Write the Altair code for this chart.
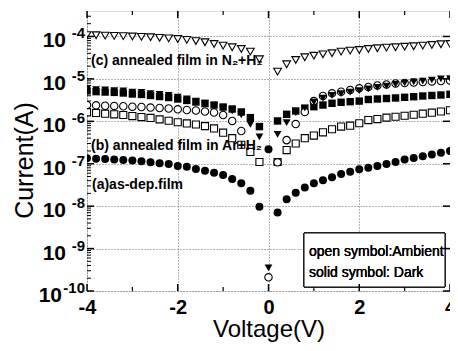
import altair as alt
import pandas as pd

# ---------------- data ----------------
voltage = [-4.0, -3.8, -3.6, -3.4, -3.2, -3.0, -2.8, -2.6, -2.4, -2.2, -2.0,
           -1.8, -1.6, -1.4, -1.2, -1.0, -0.8, -0.6, -0.4, -0.2, 0.0,
           0.2, 0.4, 0.6, 0.8, 1.0, 1.2, 1.4, 1.6, 1.8, 2.0,
           2.2, 2.4, 2.6, 2.8, 3.0, 3.2, 3.4, 3.6, 3.8, 4.0]

# (c) annealed in N2+H2, ambient (open down-triangles)
n2h2_ambient = [1.08e-4, 1.07e-4, 1.05e-4, 1.03e-4, 1.02e-4, 1.00e-4, 9.8e-5, 9.6e-5, 9.3e-5, 9.0e-5, 8.7e-5,
                8.3e-5, 7.8e-5, 7.3e-5, 6.65e-5, 6.07e-5, 5.56e-5, 5.07e-5, 4.38e-5, 2.9e-5, None,
                1.48e-5, 2.21e-5, 2.79e-5, 3.23e-5, 3.52e-5, 3.8e-5, 4.02e-5, 4.38e-5, 4.63e-5, 4.81e-5,
                5.07e-5, 5.27e-5, 5.45e-5, 5.56e-5, 5.74e-5, 5.87e-5, 6.07e-5, 6.31e-5, 6.55e-5, 6.65e-5]
# (c) dark (filled down-triangles)
n2h2_dark = [5.8e-6, 5.6e-6, 5.5e-6, 5.3e-6, 5.2e-6, 4.9e-6, 4.8e-6, 4.5e-6, 4.3e-6, 4.1e-6, 3.7e-6,
             3.4e-6, 3.0e-6, 2.7e-6, 2.36e-6, 2.06e-6, 1.75e-6, 1.41e-6, 8.5e-7, 4.3e-7, 3.5e-10,
             4.9e-7, 9.3e-7, 1.6e-6, 2.06e-6, 2.85e-6, 3.5e-6, 4.1e-6, 4.5e-6, 4.9e-6, 5.3e-6,
             5.8e-6, 6.3e-6, 6.8e-6, 7.4e-6, 8.0e-6, 8.5e-6, 8.9e-6, 9.4e-6, 9.95e-6, 1.02e-5]
# (b) annealed in Ar+H2, ambient (open squares)
arh2_ambient = [1.63e-6, 1.57e-6, 1.51e-6, 1.46e-6, 1.41e-6, 1.33e-6, 1.26e-6, 1.2e-6, 1.11e-6, 1.03e-6, 9.5e-7,
                8.9e-7, 8.4e-7, 7.7e-7, 6.8e-7, 5.4e-7, 4.0e-7, 2.8e-7, 1.9e-7, 1.1e-7, None,
                1.1e-7, 2.1e-7, 3.0e-7, 4.0e-7, 4.6e-7, 5.5e-7, 6.5e-7, 7.5e-7, 7.9e-7, 9.0e-7,
                1.07e-6, 1.13e-6, 1.22e-6, 1.28e-6, 1.35e-6, 1.43e-6, 1.51e-6, 1.6e-6, 1.7e-6, 1.82e-6]
# (b) dark (filled squares)
arh2_dark = [5.2e-6, 5.0e-6, 4.9e-6, 4.8e-6, 4.65e-6, 4.4e-6, 4.3e-6, 4.06e-6, 3.84e-6, 3.64e-6, 3.36e-6,
             3.1e-6, 2.85e-6, 2.63e-6, 2.42e-6, 2.17e-6, 1.95e-6, 1.66e-6, 1.22e-6, 7.5e-7, None,
             1.02e-6, 1.46e-6, 1.75e-6, 2.03e-6, 2.21e-6, 2.42e-6, 2.66e-6, 2.81e-6, 2.9e-6, 3.0e-6,
             3.27e-6, 3.36e-6, 3.45e-6, 3.55e-6, 3.68e-6, 3.8e-6, 3.95e-6, 4.06e-6, 4.17e-6, 4.33e-6]
# (a) as-deposited, ambient (open circles)
asdep_ambient = [2.42e-6, 2.38e-6, 2.33e-6, 2.3e-6, 2.26e-6, 2.21e-6, 2.17e-6, 2.11e-6, 2.06e-6, 2.0e-6, 1.92e-6,
                 1.85e-6, 1.8e-6, 1.7e-6, 1.61e-6, 1.41e-6, 1.02e-6, 5.9e-7, None, None, 2.1e-10,
                 1.08e-7, 3.6e-7, 8.6e-7, 1.66e-6, 3.0e-6, 3.95e-6, 4.57e-6, 4.99e-6, 5.47e-6, 6.0e-6,
                 6.44e-6, 6.98e-6, 7.38e-6, 7.79e-6, 8.0e-6, 8.2e-6, 8.45e-6, 8.69e-6, 8.9e-6, 9.2e-6]
# (a) dark (filled circles)
asdep_dark = [1.34e-7, 1.31e-7, 1.29e-7, 1.26e-7, 1.22e-7, 1.19e-7, 1.14e-7, 1.08e-7, 1.02e-7, 9.8e-8, 8.8e-8,
              8.5e-8, 7.5e-8, 6.8e-8, 6.1e-8, 5.4e-8, 4.35e-8, 3.45e-8, 2.3e-8, 9.7e-9, 2.2e-7,
              7.1e-9, 1.45e-8, 2.07e-8, 2.77e-8, 3.45e-8, 4.06e-8, 4.77e-8, 5.7e-8, 6.5e-8, 7.4e-8,
              8.0e-8, 8.8e-8, 9.8e-8, 1.1e-7, 1.26e-7, 1.36e-7, 1.5e-7, 1.65e-7, 1.82e-7, 2.0e-7]

annotation_text = ["(c) annealed film in N\u2082+H\u2082", "(b) annealed film in Ar+H\u2082", "(a)as-dep.film"]
annotation_v = [-3.91, -3.91, -3.89]
annotation_i = [2.64e-5, 2.61e-7, 3.15e-8]

legend_lines = ["open symbol:Ambient", "solid symbol: Dark"]

x_major = [-4, -2, 0, 2, 4]
x_minor = [-3, -1, 1, 3]
y_exponents = [-4, -5, -6, -7, -8, -9, -10]

# ---------------- tables ----------------
series_spec = [
    ("n2h2_ambient", n2h2_ambient),
    ("n2h2_dark", n2h2_dark),
    ("arh2_ambient", arh2_ambient),
    ("arh2_dark", arh2_dark),
    ("asdep_ambient", asdep_ambient),
    ("asdep_dark", asdep_dark),
]
rows = []
for name, vals in series_spec:
    for v, i in zip(voltage, vals):
        if i is not None:
            rows.append({"V": v, "I": i, "s": name})
df = pd.DataFrame(rows)

y_major = [10.0 ** e for e in y_exponents]
y_minor = []
for e in y_exponents:
    for m in range(2, 10):
        val = m * 10.0 ** e
        if val < 10 ** -3.4:
            y_minor.append(val)

df_ymaj = pd.DataFrame({"I": y_major, "e": [str(e) for e in y_exponents]})
df_ymin = pd.DataFrame({"I": y_minor})
df_xmaj = pd.DataFrame({"V": x_major})
df_xmin = pd.DataFrame({"V": x_minor})
df_ann = pd.DataFrame({"V": annotation_v, "I": annotation_i, "t": annotation_text})

FONT = "Liberation Sans"
W, H = 363, 280

xs = alt.Scale(domain=[-4, 4], nice=False, zero=False)
ys = alt.Scale(type="log", domain=[1e-10, 10 ** -3.4], nice=False)

x_axis = alt.Axis(values=x_major, grid=True, gridDash=[1, 2], gridColor="#444", gridWidth=0.8,
                  ticks=False, tickSize=0, domain=False, labelFont=FONT, labelFontSize=20,
                  labelFontWeight="bold", labelColor="black", labelPadding=6, labelFlush=False,
                  labelExpr="datum.value < 0 ? '-' + abs(datum.value) : '' + datum.value",
                  title="Voltage(V)", titleFont=FONT, titleFontSize=24, titleFontWeight="normal",
                  titleColor="black", titleY=38, titleBaseline="middle")
y_axis = alt.Axis(values=y_major, grid=True, gridDash=[1, 2], gridColor="#444", gridWidth=0.8,
                  ticks=False, tickSize=0, domain=False, labels=False,
                  title="Current(A)", titleFont=FONT, titleFontSize=25, titleFontWeight="normal",
                  titleColor="black", titleX=-63, titleY=149, titleBaseline="middle", titleAngle=-90)

X = alt.X("V:Q", scale=xs, axis=x_axis)
Y = alt.Y("I:Q", scale=ys, axis=y_axis)

base = alt.Chart(df).encode(x=X, y=Y)

def pts(name, shape, filled, size):
    if filled:
        m = base.mark_point(shape=shape, size=size, filled=True, color="black", opacity=1, clip=True)
    else:
        m = base.mark_point(shape=shape, size=size, fill="white", stroke="black",
                            strokeWidth=1.1, opacity=1, fillOpacity=1, clip=True)
    return m.transform_filter(alt.datum.s == name)

layers = [
    pts("asdep_dark", "circle", True, 64),
    pts("arh2_ambient", "square", False, 50),
    pts("arh2_dark", "square", True, 55),
    pts("asdep_ambient", "circle", False, 55),
    pts("n2h2_dark", "triangle-down", True, 60),
    pts("n2h2_ambient", "triangle-down", False, 60),
]

# annotations
ann = alt.Chart(df_ann).mark_text(align="left", baseline="middle", font=FONT, fontSize=14,
                                   fontWeight="bold", color="black").encode(x=X, y=Y, text="t:N")

# legend box
box = alt.Chart(df_ann).mark_rect(fill="white", stroke="black", strokeWidth=1).encode(
    x=alt.value(217), x2=alt.value(358), y=alt.value(222), y2=alt.value(276))
leg1 = alt.Chart(df_ann).mark_text(align="left", baseline="middle", font=FONT, fontSize=14,
                                    text=legend_lines[0], color="black").encode(
    x=alt.value(222), y=alt.value(241))
leg2 = alt.Chart(df_ann).mark_text(align="left", baseline="middle", font=FONT, fontSize=14,
                                    text=legend_lines[1], color="black").encode(
    x=alt.value(222), y=alt.value(262))

# inward ticks
Yt = alt.Y("I:Q", scale=ys, axis=y_axis)
Xt = alt.X("V:Q", scale=xs, axis=x_axis)
tl_maj = alt.Chart(df_ymaj).mark_rule(color="black", strokeWidth=1.5).encode(
    y=Yt, x=alt.value(0), x2=alt.value(7))
tl_min = alt.Chart(df_ymin).mark_rule(color="black", strokeWidth=1).encode(
    y=Yt, x=alt.value(0), x2=alt.value(4))
tr_maj = alt.Chart(df_ymaj).mark_rule(color="black", strokeWidth=1.5).encode(
    y=Yt, x=alt.value(W), x2=alt.value(W - 7))
tb_maj = alt.Chart(df_xmaj).mark_rule(color="black", strokeWidth=1.5).encode(
    x=Xt, y=alt.value(H), y2=alt.value(H - 7))
tb_min = alt.Chart(df_xmin).mark_rule(color="black", strokeWidth=1.2).encode(
    x=Xt, y=alt.value(H), y2=alt.value(H - 4))
tt_maj = alt.Chart(df_xmaj).mark_rule(color="black", strokeWidth=1.5).encode(
    x=Xt, y=alt.value(0), y2=alt.value(7))
tt_min = alt.Chart(df_xmin).mark_rule(color="black", strokeWidth=1.2).encode(
    x=Xt, y=alt.value(0), y2=alt.value(4))

# y tick labels as 10 with superscript exponent
lab10_a = alt.Chart(df_ymaj).mark_text(align="right", baseline="middle", font=FONT, fontSize=21,
                                        fontWeight="bold", color="black", text="10", dy=5).encode(
    y=Yt, x=alt.value(-21)).transform_filter("datum.e != '-10'")
lab10_b = alt.Chart(df_ymaj).mark_text(align="right", baseline="middle", font=FONT, fontSize=21,
                                        fontWeight="bold", color="black", text="10", dy=5).encode(
    y=Yt, x=alt.value(-25)).transform_filter("datum.e == '-10'")
labexp = alt.Chart(df_ymaj).mark_text(align="right", baseline="middle", font=FONT, fontSize=15,
                                       fontWeight="bold", color="black", dy=-3).encode(
    y=Yt, x=alt.value(-2), text="e:N")

chart = alt.layer(
    *layers, ann, box, leg1, leg2,
    tl_maj, tl_min, tr_maj, tb_maj, tb_min, tt_maj, tt_min,
    lab10_a, lab10_b, labexp,
).properties(
    width=W, height=H,
    autosize=alt.AutoSizeParams(type="none"),
    padding={"left": 79, "top": 3, "right": 0, "bottom": 52},
).configure_view(stroke="black", strokeWidth=2).configure(background="white")

chart.save("out.html", embed_options={"renderer": "svg", "actions": False})
